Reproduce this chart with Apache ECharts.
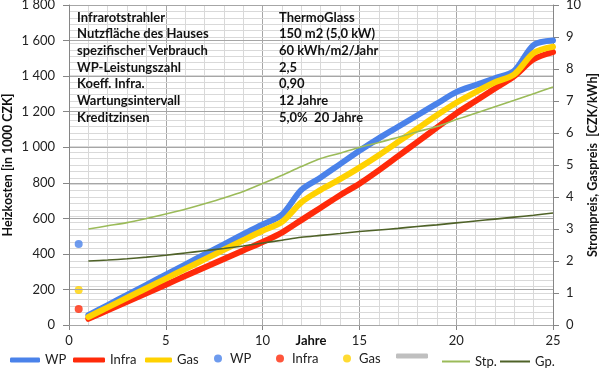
<!DOCTYPE html>
<html><head><meta charset="utf-8">
<script src="https://cdn.jsdelivr.net/npm/echarts@6/dist/echarts.min.js"></script>
<style>html,body{margin:0;padding:0;background:#fff}#c{width:600px;height:373px}</style>
</head><body><div id="c"></div>
<script>
// ---- data ----
const years = [1,2,3,4,5,6,7,8,9,10,11,12,13,14,15,16,17,18,19,20,21,22,23,24,25];
const wpCost    = [55,112,169,226,283,340,397,454,511,565,620,760,830,905,980,1050,1115,1180,1245,1310,1350,1388,1430,1575,1600];
const infraCost = [35,83,131,179,227,275,323,371,419,467,520,590,660,730,795,870,950,1030,1110,1190,1260,1330,1400,1495,1535];
const gasCost   = [45,99,153,207,261,315,369,423,477,530,580,690,760,820,885,955,1030,1105,1180,1250,1310,1365,1410,1530,1565];
const stromPreis = [3.0,3.1,3.2,3.33,3.47,3.62,3.79,3.97,4.17,4.42,4.68,4.95,5.2,5.37,5.55,5.7,5.87,6.04,6.2,6.42,6.62,6.82,7.02,7.23,7.44];
const gasPreis   = [2.0,2.03,2.07,2.12,2.18,2.25,2.32,2.39,2.47,2.56,2.65,2.74,2.8,2.86,2.92,2.97,3.02,3.08,3.13,3.19,3.25,3.31,3.37,3.43,3.5];
const startX = 0.5;
const wpStart = 455, infraStart = 90, gasStart = 197;
const infoLabels = ['Infrarotstrahler','Nutzfläche des Hauses','spezifischer Verbrauch','WP-Leistungszahl','Koeff. Infra.','Wartungsintervall','Kreditzinsen'];
const infoValues = ['ThermoGlass','150 m2 (5,0 kW)','60 kWh/m2/Jahr','2,5','0,90','12 Jahre','5,0%  20 Jahre'];

const FONT = 'Lato';
const pairs = arr => years.map((y,i)=>[y,arr[i]]);
const C = {wp:'#4a82ea', infra:'#ff2a0a', gas:'#ffd200', stp:'#9bbb59', gp:'#4f6228', gray:'#bfbfbf'};

const chart = echarts.init(document.getElementById('c'), null, {renderer:'canvas'});
const thick = (name, data, color) => ({name, type:'line', data, symbol:'none', smooth:0.3,
  lineStyle:{color, width:6, cap:'round', join:'round'}, itemStyle:{color}, yAxisIndex:0});
const dot = (name, val, color) => ({name, type:'scatter', data:[[startX,val]], symbolSize:8, itemStyle:{color}, yAxisIndex:0});
const thin = (name, data, color) => ({name, type:'line', data, symbol:'none', smooth:0.3,
  lineStyle:{color, width:1.6}, itemStyle:{color}, yAxisIndex:1});

const legendFmt = n => n === 'blank' ? '' : n.replace(/2$/,'');
const MID = 356;
const mkLegend = (name, left, w, h, icon) => ({
  data:[{name, icon}], left, top: MID - h/2, itemWidth:w, itemHeight:h, itemGap:0, selectedMode:false,
  formatter: legendFmt, textStyle:{fontFamily:FONT, fontSize:13, color:'#222'}, padding:0
});

const graphics = [];
infoLabels.forEach((t,i)=>{
  graphics.push({type:'text', left:77, top:11+i*16.7, z:100, style:{text:t, font:'bold 13px '+FONT, fill:'#111'}});
  graphics.push({type:'text', left:279, top:11+i*16.7, z:100, style:{text:infoValues[i], font:'bold 13px '+FONT, fill:'#111'}});
});

chart.setOption({
  animation:false,
  grid:{left:69, right:47, top:5, bottom:48, containLabel:false, outerBoundsMode:'none'},
  legend:[
    mkLegend('WP',10,30,5,'roundRect'),
    mkLegend('Infra',73,32,5,'roundRect'),
    mkLegend('Gas',145,27,5,'roundRect'),
    mkLegend('WP2',214,14,8,'circle'),
    mkLegend('Infra2',276,14,8,'circle'),
    mkLegend('Gas2',343,14,8,'circle'),
    mkLegend('blank',396,32,5,'roundRect'),
    mkLegend('Stp.',442,28,2,'rect'),
    mkLegend('Gp.',500,30,2,'rect')
  ],
  graphic: graphics,
  xAxis:{type:'value', min:0, max:25, interval:5,
    name:'Jahre', nameLocation:'middle', nameGap:9, nameMoveOverlap:false,
    nameTextStyle:{fontFamily:FONT, fontWeight:'bold', fontSize:13, color:'#111', verticalAlign:'top'},
    axisLine:{show:true, lineStyle:{color:'#868686'}},
    axisTick:{show:true, length:5, lineStyle:{color:'#868686'}},
    axisLabel:{fontFamily:FONT, fontSize:13, color:'#222', margin:9},
    splitLine:{show:true, lineStyle:{color:'#a6a6a6', width:1}},
    minorTick:{show:false, splitNumber:5},
    minorSplitLine:{show:true, lineStyle:{color:'#d9d9d9', width:1}}
  },
  yAxis:[
    {type:'value', min:0, max:1800, interval:200, position:'left',
      name:'Heizkosten [in 1000 CZK]', nameLocation:'middle', nameGap:55, nameRotate:90, nameMoveOverlap:false,
      nameTextStyle:{fontFamily:FONT, fontWeight:'bold', fontSize:12.5, color:'#111'},
      axisLine:{show:true, lineStyle:{color:'#868686'}},
      axisTick:{show:true, length:6, lineStyle:{color:'#868686'}},
      axisLabel:{fontFamily:FONT, fontSize:13, color:'#222', margin:14,
        formatter: v => v>=1000 ? Math.floor(v/1000)+' '+String(v%1000).padStart(3,'0') : String(v)},
      splitLine:{show:true, lineStyle:{color:'#a6a6a6', width:1}},
      z:3
    },
    {type:'value', min:0, max:10, interval:1, position:'right',
      name:'Strompreis, Gaspreis  [CZK/kWh]', nameLocation:'middle', nameGap:33, nameRotate:90, nameMoveOverlap:false,
      nameTextStyle:{fontFamily:FONT, fontWeight:'bold', fontSize:12.5, color:'#111'},
      axisLine:{show:true, lineStyle:{color:'#868686'}},
      axisTick:{show:true, length:6, lineStyle:{color:'#868686'}},
      axisLabel:{fontFamily:FONT, fontSize:13, color:'#222', margin:13},
      splitLine:{show:true, lineStyle:{color:'#d9d9d9', width:1}},
      minorTick:{show:false, splitNumber:5},
      minorSplitLine:{show:true, lineStyle:{color:'#d9d9d9', width:1}},
      z:2
    }
  ],
  series:[
    thick('WP', pairs(wpCost), C.wp),
    thick('Infra', pairs(infraCost), C.infra),
    thick('Gas', pairs(gasCost), C.gas),
    dot('WP2', wpStart, C.wp),
    dot('Infra2', infraStart, C.infra),
    dot('Gas2', gasStart, C.gas),
    {name:'blank', type:'line', data:[], symbol:'none', lineStyle:{color:C.gray, width:6}, itemStyle:{color:C.gray}},
    thin('Stp.', pairs(stromPreis), C.stp),
    thin('Gp.', pairs(gasPreis), C.gp)
  ]
});
</script></body></html>
